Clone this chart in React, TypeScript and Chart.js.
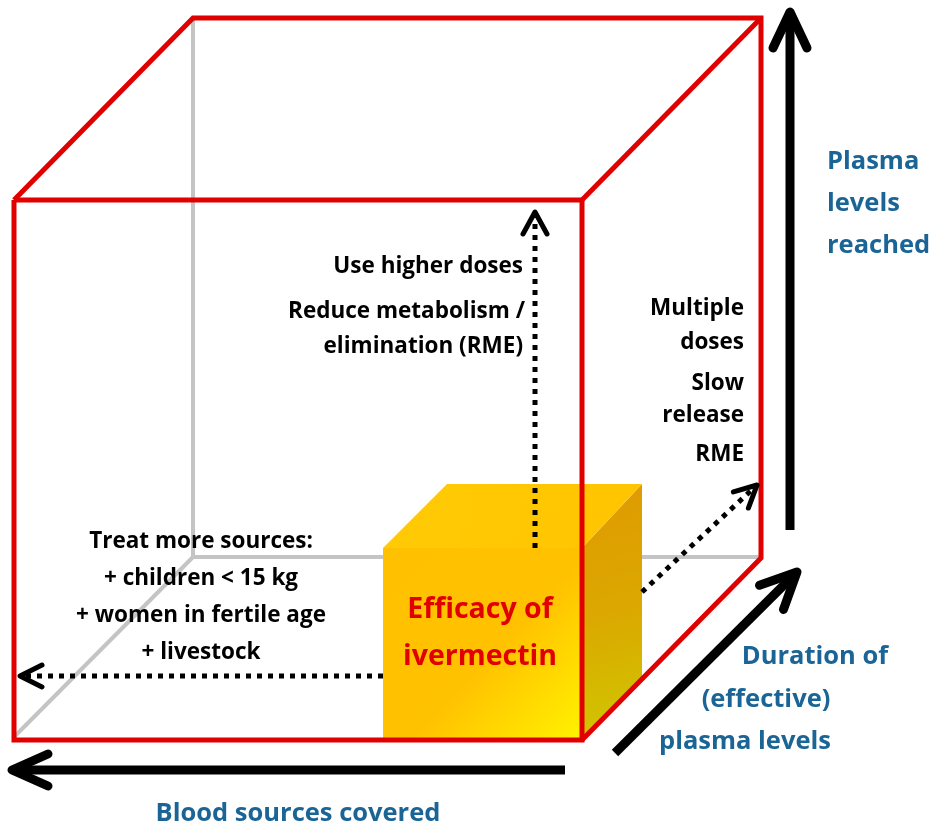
import React, { useEffect, useRef } from "react";
import { Chart, registerables } from "chart.js";

Chart.register(...registerables);

type P = [number, number];

const W = 930;
const H = 824;

// ---- geometry (diagram coordinates, y grows downward) ----
const redFront: P[] = [[14, 200], [582, 200], [582, 740], [14, 740], [14, 200]];
const redBack: P[] = [[14, 200], [193, 18], [761, 18], [761, 558], [582, 740]];
const redDiag: P[] = [[582, 200], [761, 18]];
const grayVertical: P[] = [[193, 18], [193, 557]];
const grayBottom: P[] = [[193, 557], [761, 557]];
const grayDiag: P[] = [[193, 557], [14, 737]];

const cubeTop: P[] = [[383, 548], [447, 484], [642, 484], [582, 548], [383, 548]];
const cubeFront: P[] = [[383, 548], [582, 548], [582, 740], [383, 740], [383, 548]];
const cubeSide: P[] = [[582, 548], [642, 484], [642, 680], [582, 740], [582, 548]];

const dottedUp: P[] = [[535, 548], [535, 212]];
const dottedLeft: P[] = [[383, 676], [20, 676]];
const dottedDiag: P[] = [[642, 592], [757, 485]];

const arrowUp: P[] = [[790, 530], [790, 12]];
const arrowDiag: P[] = [[615, 753], [797, 572]];
const arrowLeft: P[] = [[565, 770], [12, 770]];

// ---- texts ----
const upLabels = ["Use higher doses", "Reduce metabolism /", "elimination (RME)"];
const sideLabels = ["Multiple", "doses", "Slow", "release", "RME"];
const leftLabels = ["Treat more sources:", "+ children < 15 kg", "+ women in fertile age", "+ livestock"];
const plasmaLabels = ["Plasma", "levels", "reached"];
const durationLabels = ["Duration of", "(effective)", "plasma levels"];
const bloodLabel = ["Blood sources covered"];
const centerLabels = ["Efficacy of", "ivermectin"];

const FONT = "'Open Sans', Lato, sans-serif";
const BLUE = "#1b6596";
const RED = "#e00000";

type TextGroup = {
  lines: string[];
  xs: number[];
  ys: number[];
  align: CanvasTextAlign;
  size: number;
  color: string;
};

const textGroups: TextGroup[] = [
  { lines: upLabels, xs: [523, 525, 523], ys: [267, 312, 347], align: "right", size: 22.5, color: "#000" },
  { lines: sideLabels, xs: [744, 744, 744, 744, 744], ys: [309, 343, 384, 416, 455], align: "right", size: 22.5, color: "#000" },
  { lines: leftLabels, xs: [201, 201, 201, 201], ys: [542, 579, 616, 653], align: "center", size: 22.5, color: "#000" },
  { lines: plasmaLabels, xs: [827, 827, 827], ys: [162, 204, 246], align: "left", size: 25.5, color: BLUE },
  { lines: durationLabels, xs: [815, 766, 745], ys: [657, 700, 742], align: "center", size: 25.5, color: BLUE },
  { lines: bloodLabel, xs: [298], ys: [814], align: "center", size: 25.5, color: BLUE },
  { lines: centerLabels, xs: [480, 480], ys: [610, 657], align: "center", size: 28.5, color: RED },
];

function pts(p: P[]) {
  return p.map(([x, y]) => ({ x, y }));
}

function chevron(line: P[], len: number, half: number): P[] {
  const [a, b] = [line[line.length - 2], line[line.length - 1]];
  const dx = b[0] - a[0];
  const dy = b[1] - a[1];
  const d = Math.hypot(dx, dy);
  const ux = dx / d;
  const uy = dy / d;
  const bx = b[0] - ux * len;
  const by = b[1] - uy * len;
  return [
    [bx - uy * half, by + ux * half],
    [b[0], b[1]],
    [bx + uy * half, by - ux * half],
  ];
}

function lineDs(p: P[], color: string, width: number, order: number, extra: any = {}) {
  return {
    data: pts(p),
    showLine: true,
    pointRadius: 0,
    borderColor: color,
    borderWidth: width,
    backgroundColor: "transparent",
    fill: false,
    tension: 0,
    order,
    clip: false,
    borderCapStyle: "butt",
    borderJoinStyle: "miter",
    ...extra,
  };
}

function gradientFill(poly: P[], stops: [number, string][], fallback: string) {
  return (c: any) => {
    const chart = c.chart;
    const sx = chart.scales?.x;
    const sy = chart.scales?.y;
    if (!sx || !sy) return fallback;
    const xsv = poly.map((q) => q[0]);
    const ysv = poly.map((q) => q[1]);
    const x0 = sx.getPixelForValue(Math.min(...xsv));
    const y0 = sy.getPixelForValue(Math.min(...ysv));
    const x1 = sx.getPixelForValue(Math.max(...xsv));
    const y1 = sy.getPixelForValue(Math.max(...ysv));
    if (![x0, y0, x1, y1].every((v) => Number.isFinite(v))) return fallback;
    const g = chart.ctx.createLinearGradient(x0, y0, x1, y1);
    stops.forEach(([o, col]) => g.addColorStop(o, col));
    return g;
  };
}

function shapeDs(p: P[], bg: any, order: number) {
  return {
    data: pts(p),
    showLine: true,
    pointRadius: 0,
    borderWidth: 0,
    borderColor: "transparent",
    backgroundColor: bg,
    fill: "shape",
    tension: 0,
    order,
    clip: false,
  };
}

const textPlugin = {
  id: "diagramText",
  afterDatasetsDraw(chart: any) {
    const { ctx } = chart;
    const sx = chart.scales.x;
    const sy = chart.scales.y;
    ctx.save();
    textGroups.forEach((g) => {
      ctx.font = `bold ${g.size}px ${FONT}`;
      ctx.fillStyle = g.color;
      ctx.textAlign = g.align;
      ctx.textBaseline = "middle";
      g.lines.forEach((t, i) => {
        ctx.fillText(t, sx.getPixelForValue(g.xs[i]), sy.getPixelForValue(g.ys[i]));
      });
    });
    ctx.restore();
  },
};

export default function App() {
  const ref = useRef<HTMLCanvasElement | null>(null);

  useEffect(() => {
    document.body.style.margin = "0";
    const canvas = ref.current;
    if (!canvas) return;

    const dotted = { borderDash: [5, 6] };
    const round = { borderCapStyle: "round", borderJoinStyle: "round" };

    const datasets: any[] = [
      // back hidden edges (drawn first)
      lineDs(grayVertical, "#c4c4c4", 4, 100),
      lineDs(grayBottom, "#c4c4c4", 4, 100),
      lineDs(grayDiag, "#c4c4c4", 4, 100),
      // yellow cube
      shapeDs(cubeTop, gradientFill(cubeTop, [[0, "#ffcb05"], [1, "#ffc400"]], "#ffc800"), 90),
      shapeDs(cubeFront, gradientFill(cubeFront, [[0, "#ffc000"], [0.55, "#ffc200"], [1, "#fff200"]], "#ffc000"), 90),
      shapeDs(cubeSide, gradientFill(cubeSide, [[0, "#e09a00"], [0.5, "#dba800"], [1, "#cfc800"]], "#dca800"), 90),
      // red box
      lineDs(redFront, RED, 5, 50),
      lineDs(redBack, RED, 5, 50),
      lineDs(redDiag, RED, 5, 50),
      // dotted arrows
      lineDs(dottedUp, "#000", 5, 40, dotted),
      lineDs(chevron(dottedUp, 22, 12), "#000", 5, 40, round),
      lineDs(dottedLeft, "#000", 5, 40, dotted),
      lineDs(chevron(dottedLeft, 22, 11), "#000", 5, 40, round),
      lineDs(dottedDiag, "#000", 5, 40, dotted),
      lineDs(chevron(dottedDiag, 22, 11), "#000", 5, 40, round),
      // solid axis arrows
      lineDs(arrowUp, "#000", 9, 30),
      lineDs(chevron(arrowUp, 36, 17), "#000", 9, 30, round),
      lineDs(arrowDiag, "#000", 9, 30),
      lineDs(chevron(arrowDiag, 36, 17), "#000", 9, 30, round),
      lineDs(arrowLeft, "#000", 9, 30),
      lineDs(chevron(arrowLeft, 36, 16), "#000", 9, 30, round),
    ];

    const chart = new Chart(canvas, {
      type: "scatter",
      data: { datasets },
      options: {
        responsive: false,
        maintainAspectRatio: false,
        animation: false,
        events: [],
        layout: { padding: 0 },
        scales: {
          x: { type: "linear", min: 0, max: W, display: false },
          y: { type: "linear", min: 0, max: H, reverse: true, display: false },
        },
        plugins: {
          legend: { display: false },
          tooltip: { enabled: false },
          filler: { drawTime: "beforeDatasetDraw" },
        } as any,
      },
      plugins: [textPlugin],
    } as any);

    return () => chart.destroy();
  }, []);

  return (
    <div style={{ width: W, height: H, background: "#fff" }}>
      <canvas ref={ref} width={W} height={H} style={{ display: "block" }} />
    </div>
  );
}
